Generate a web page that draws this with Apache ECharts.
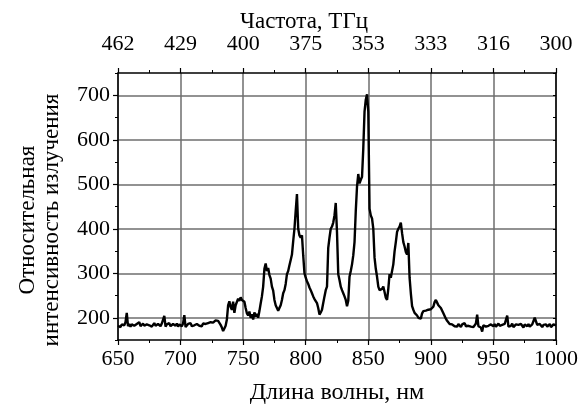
<!DOCTYPE html>
<html>
<head>
<meta charset="utf-8">
<script src="https://cdn.jsdelivr.net/npm/echarts@6/dist/echarts.min.js"></script>
<style>
  html, body { margin: 0; padding: 0; background: #fff; }
  #chart { width: 581px; height: 410px; }
</style>
</head>
<body>
<div id="chart"></div>
<script>
// длина волны: от 650 нм с шагом 1 нм
const startNm = 650
// относительная интенсивность
const intensity = [
  182,186,179,185,188,183,190,211,181,186,
  180,185,188,182,179,186,183,190,181,184,
  187,182,178,185,189,183,186,180,184,188,
  182,179,186,184,181,187,183,204,180,185,
  183,188,181,179,186,184,182,187,180,185,
  184,181,187,206,179,183,186,182,188,181,
  185,183,180,186,189,182,184,181,187,183,
  186,184,188,185,190,187,189,192,194,196,
  193,190,184,178,170,176,182,196,228,237,
  224,218,236,211,228,232,243,238,246,240,
  244,236,222,210,205,214,200,208,196,212,
  203,209,200,215,232,248,270,310,322,305,
  312,296,288,270,261,240,228,222,216,220,
  228,240,255,262,276,298,305,318,330,342,
  372,400,440,478,400,385,380,385,340,300,
  290,282,276,268,262,255,248,242,238,233,
  222,207,212,218,233,248,262,270,357,380,
  400,405,414,430,458,392,298,285,270,262,
  255,248,240,226,238,292,305,320,340,370,
  440,495,523,502,510,517,580,663,690,702,
  663,445,430,423,400,335,310,292,270,262,
  258,265,270,258,245,240,265,298,290,292,
  320,349,370,393,400,405,414,390,370,360,
  348,342,368,290,255,226,218,211,212,205,
  200,203,198,210,215,218,216,220,218,222,
  219,218,225,235,240,234,228,230,222,218,
  210,204,198,193,190,186,188,185,183,181,
  184,180,186,182,179,185,183,188,181,184,
  182,186,180,184,179,183,187,207,181,185,
  178,169,183,186,180,184,182,179,185,183,
  181,186,180,183,187,182,178,184,181,186,
  183,205,180,184,182,187,179,183,185,181,
  184,180,186,182,178,185,183,181,186,180,
  183,185,181,200,201,184,180,186,182,179,
  184,181,185,180,183,186,179,182,185,181,
  183
]
// подписи верхней оси (частота, ТГц) для 650, 700 ... 1000 нм
const freqLabels = ['462', '429', '400', '375', '353', '333', '316', '300']
const yMajor = [200, 300, 400, 500, 600, 700]

const font = 'Liberation Serif'
const chart = echarts.init(document.getElementById('chart'))

const spectrum = intensity.map((v, i) => [startNm + i, v])

const option = {
  animation: false,
  backgroundColor: '#fff',
  grid: { left: 118, right: 25, top: 73, bottom: 62 },
  graphic: [
    {
      type: 'text',
      x: 304,
      y: 22,
      style: {
        text: 'Частота, ТГц', fontFamily: font, fontSize: 23, fill: '#000',
        textAlign: 'center', textVerticalAlign: 'middle',
      },
    },
    {
      // подпись оси Y, две строки
      type: 'text',
      x: 40,
      y: 220,
      rotation: Math.PI / 2,
      style: {
        text: 'Относительная\nинтенсивность излучения', fontFamily: font, fontSize: 23,
        lineHeight: 24, fill: '#000', textAlign: 'center', textVerticalAlign: 'middle',
      },
    },
  ],
  xAxis: [
    {
      type: 'value',
      position: 'bottom',
      min: 650,
      max: 1000,
      interval: 50,
      name: 'Длина волны, нм',
      nameLocation: 'middle',
      nameGap: 41,
      nameTextStyle: { fontFamily: font, fontSize: 24, color: '#000' },
      axisLine: { onZero: false, lineStyle: { color: '#000', width: 1.5 } },
      axisTick: { inside: false, length: 5, lineStyle: { color: '#000', width: 1.2 } },
      minorTick: { show: true, splitNumber: 2, length: 3, lineStyle: { color: '#000', width: 1 } },
      axisLabel: { margin: 8, fontFamily: font, fontSize: 22, color: '#000', formatter: (v) => String(v) },
      splitLine: { show: true, lineStyle: { color: '#6e6e6e', width: 1.5 } },
    },
    {
      type: 'value',
      position: 'top',
      min: 650,
      max: 1000,
      interval: 50,
      axisLine: { onZero: false, lineStyle: { color: '#000', width: 1.5 } },
      axisTick: { inside: false, length: 5, lineStyle: { color: '#000', width: 1.2 } },
      minorTick: { show: true, splitNumber: 2, length: 3, lineStyle: { color: '#000', width: 1 } },
      axisLabel: {
        margin: 18,
        fontFamily: font,
        fontSize: 22,
        color: '#000',
        formatter: (v) => freqLabels[Math.round((v - 650) / 50)],
      },
      splitLine: { show: false },
    },
  ],
  yAxis: [
    {
      type: 'value',
      position: 'left',
      min: 150,
      max: 750,
      interval: 50,
      axisLine: { show: true, onZero: false, lineStyle: { color: '#000', width: 1.5 } },
      axisTick: { inside: false, length: 5, customValues: yMajor, lineStyle: { color: '#000', width: 1.2 } },
      axisLabel: { margin: 8, customValues: yMajor, fontFamily: font, fontSize: 22, color: '#000' },
      splitLine: { show: true, lineStyle: { color: '#6e6e6e', width: 1.5 } },
    },
    {
      // мелкие деления слева
      type: 'value',
      position: 'left',
      min: 150,
      max: 750,
      interval: 50,
      axisLine: { show: false },
      axisTick: { inside: false, length: 3, lineStyle: { color: '#000', width: 1 } },
      axisLabel: { show: false },
      splitLine: { show: false },
    },
    {
      type: 'value',
      position: 'right',
      min: 150,
      max: 750,
      interval: 50,
      axisLine: { show: true, onZero: false, lineStyle: { color: '#000', width: 1.5 } },
      axisTick: { inside: true, length: 3, lineStyle: { color: '#000', width: 1 } },
      axisLabel: { show: false },
      splitLine: { show: false },
    },
  ],
  series: [
    {
      type: 'line',
      xAxisIndex: 0,
      yAxisIndex: 0,
      data: spectrum,
      showSymbol: false,
      lineStyle: { color: '#000', width: 2.4 },
      z: 5,
    },
  ],
}

chart.setOption(option)
</script>
</body>
</html>
